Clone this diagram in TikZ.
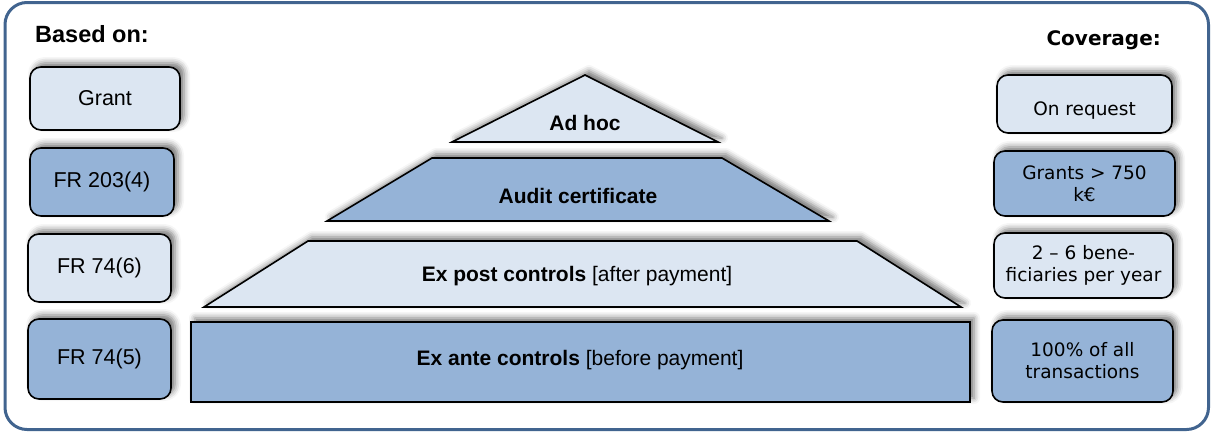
\documentclass[tikz,border=0pt]{standalone}
\usepackage{fontspec}
\setmainfont{Liberation Sans}
\newfontfamily\verd{DejaVu Sans}
\usetikzlibrary{shadows.blur}
\definecolor{lightfill}{HTML}{DCE6F2}
\definecolor{darkfill}{HTML}{95B3D7}
\definecolor{framecol}{HTML}{41648F}
\tikzset{
  shad/.style={blur shadow={shadow xshift=4pt, shadow yshift=4pt, shadow blur radius=6pt, shadow opacity=55}},
  box/.style={shad, draw=black, line width=1.6pt, rounded corners=11pt, inner sep=2pt, align=center,
    font=\fontsize{21.5}{25}\selectfont},
  rbox/.style={box, font=\verd\fontsize{18.5}{22}\selectfont},
  light/.style={fill=lightfill},
  dark/.style={fill=darkfill},
  layer/.style={shad, draw=black, line width=1.6pt, line join=miter},
  lbl/.style={font=\fontsize{21}{25}\selectfont},
  blbl/.style={font=\bfseries\fontsize{21}{25}\selectfont},
  head/.style={font=\bfseries\fontsize{23.5}{27}\selectfont}
}
\begin{document}
\begin{tikzpicture}[x=1pt,y=-1pt]
\useasboundingbox (0,0) rectangle (1212,432);
\draw[framecol, line width=3pt, rounded corners=22pt] (5,2.5) rectangle (1208.5,429.5);

\node[head, anchor=west, inner sep=0pt] (based) at (35,34) {Based on:};
\node[font=\verd\bfseries\fontsize{20}{24}\selectfont, anchor=east, inner sep=0pt] (cov) at (1161,40) {Coverage:};

% left boxes
\node[box, light, minimum width=150pt, minimum height=63pt] (grant) at (105,98.5) {Grant};
\node[box, dark, minimum width=144pt, minimum height=68pt] (fr203) at (102,182) {FR 203(4)};
\node[box, light, minimum width=143pt, minimum height=68pt] (fr746) at (99.5,268) {FR 74(6)};
\node[box, dark, minimum width=143pt, minimum height=80pt] (fr745) at (99.5,359) {FR 74(5)};

% right boxes
\node[rbox, light, minimum width=175pt, minimum height=58pt, text height=22pt, text depth=0pt] (onreq) at (1084.5,104) {On request};
\node[rbox, dark, minimum width=181pt, minimum height=65pt] (grants) at (1084.5,183.5) {Grants {>} 750\\k€};
\node[rbox, light, minimum width=179pt, minimum height=65pt] (bene) at (1083.5,265.5) {2 – 6 bene-\\ficiaries per year};
\node[rbox, dark, minimum width=181pt, minimum height=82pt] (all) at (1082.5,361) {100\% of all\\transactions};

% pyramid
\path[layer, fill=lightfill] (585,75) -- (718,142) -- (452,142) -- cycle;
\node[blbl] (adhoc) at (585,123) {Ad hoc};

\path[layer, fill=darkfill] (432,158) -- (722,158) -- (829,221) -- (327,221) -- cycle;
\node[blbl] (audit) at (578,196) {Audit certificate};

\path[layer, fill=lightfill] (308,241) -- (857,241) -- (961,307) -- (204,307) -- cycle;
\node[lbl] (expost) at (577,276) {\textbf{Ex post controls} [after payment]};

\path[layer, fill=darkfill] (191,322) rectangle (970,402);
\node[lbl] (exante) at (580,360) {\textbf{Ex ante controls} [before payment]};
\end{tikzpicture}
\end{document}
